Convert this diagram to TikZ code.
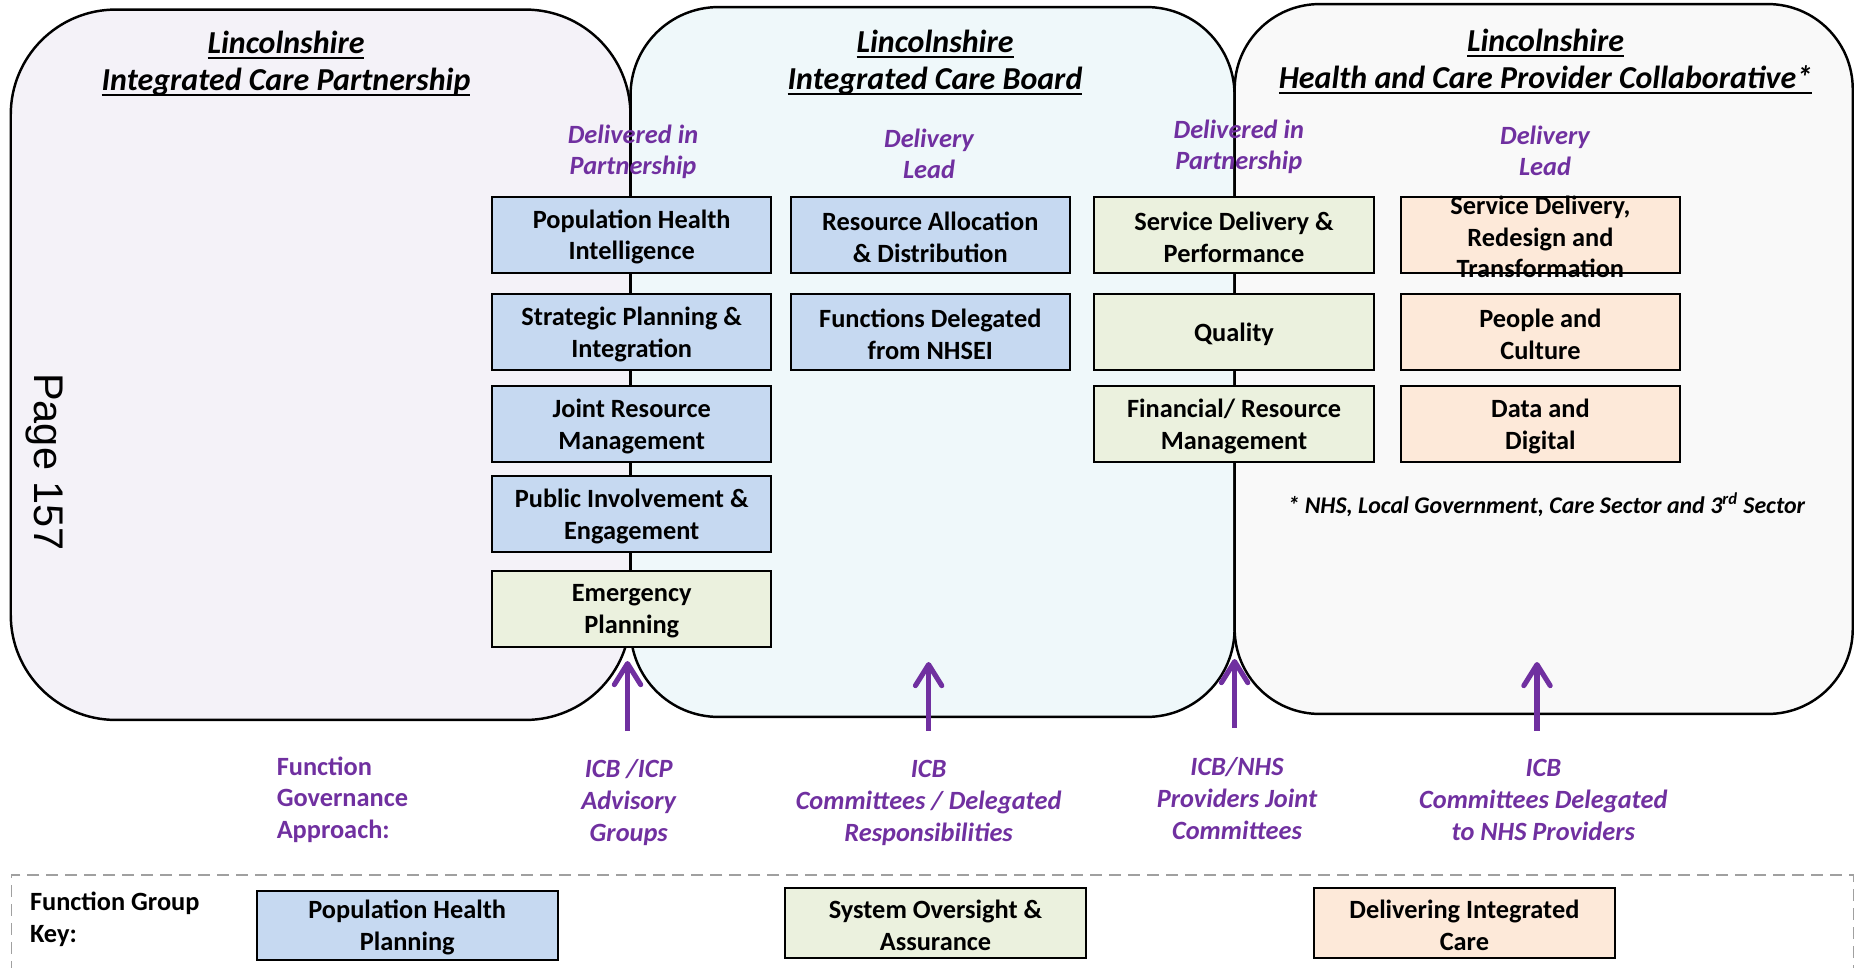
\documentclass[tikz,border=0pt]{standalone}
\usepackage{fontspec}
\setmainfont{Carlito}
\newfontfamily\pagefont{Liberation Sans}
\usetikzlibrary{arrows.meta}
\definecolor{icpfill}{HTML}{F4F2F8}
\definecolor{icbfill}{HTML}{EFF8FA}
\definecolor{pcfill}{HTML}{F9F9F9}
\definecolor{bluefill}{HTML}{C6D9F1}
\definecolor{greenfill}{HTML}{EBF1DE}
\definecolor{orangefill}{HTML}{FDE9D9}
\definecolor{purp}{HTML}{7030A0}
\definecolor{keygray}{HTML}{A0A0A0}
\newcommand\hdrul[1]{\setbox0=\hbox{#1}\leavevmode\rlap{\rule[-3.2pt]{\wd0}{1.6pt}}\box0}
\tikzset{
  bigbox/.style={draw, line width=1.4pt, rectangle, inner sep=0},
  smallbox/.style={draw, line width=1.1pt, rectangle, inner sep=0, minimum width=5.59cm, minimum height=1.52cm},
  keybox/.style={smallbox, minimum width=6.02cm, minimum height=1.39cm},
  btxt/.style={font=\fontsize{15pt}{18.1pt}\selectfont\bfseries, align=center, inner sep=0, yshift=-1.3pt},
  hdr/.style={font=\fontsize{18.2pt}{21pt}\selectfont\bfseries\itshape, align=center, inner sep=0, yshift=-0.8pt},
  plbl/.style={font=\fontsize{15pt}{18.1pt}\selectfont\bfseries\itshape, text=purp, align=center, inner sep=0, yshift=-1pt},
  parrow/.style={draw=purp, line width=2.9pt, -{Straight Barb[round,length=12pt,width=15pt]}},
}
\begin{document}
\begin{tikzpicture}[x=0.02cm,y=-0.02cm]
\useasboundingbox (0,0) rectangle (1855,967);
\clip (0,0) rectangle (1855,967);
% big containers
\node[bigbox, fill=icpfill, rounded corners=2.1cm, minimum width=12.396cm, minimum height=14.21cm] (icp) at (320.6,364.75) {};
\node[bigbox, fill=icbfill, rounded corners=1.76cm, minimum width=12.082cm, minimum height=14.2cm] (icb) at (932.55,362) {};
\node[bigbox, fill=pcfill, rounded corners=1.7cm, minimum width=12.364cm, minimum height=14.2cm] (pc) at (1543.7,359) {};
% headers
\node[hdr] (hicp) at (286,62.5) {\hdrul{Lincolnshire}\\\hdrul{Integrated Care Partnership}};
\node[hdr] (hicb) at (935,61.5) {\hdrul{Lincolnshire}\\\hdrul{Integrated Care Board}};
\node[hdr] (hpc) at (1545.5,60.5) {\hdrul{Lincolnshire}\\\hdrul{Health and Care Provider Collaborative*}};
% column labels
\node[plbl] (l1) at (633,150) {Delivered in\\Partnership};
\node[plbl] (l2) at (929,152) {Delivery\\Lead};
\node[plbl] (l3) at (1238.8,145) {Delivered in\\Partnership};
\node[plbl] (l4) at (1545,149) {Delivery\\Lead};
% column 1
\node[smallbox, fill=bluefill] (b11) at (631.7,234.7) {};
\node[btxt] (t11) at (b11) {Population Health\\Intelligence};
\node[smallbox, fill=bluefill] (b12) at (631.7,332) {};
\node[btxt] (t12) at (b12) {Strategic Planning \&\\Integration};
\node[smallbox, fill=bluefill] (b13) at (631.7,424.3) {};
\node[btxt] (t13) at (b13) {Joint Resource\\Management};
\node[smallbox, fill=bluefill] (b14) at (631.7,514.3) {};
\node[btxt] (t14) at (b14) {Public Involvement \&\\Engagement};
\node[smallbox, fill=greenfill] (b15) at (631.7,608.7) {};
\node[btxt] (t15) at (b15) {Emergency\\Planning};
% column 2
\node[smallbox, fill=bluefill] (b21) at (930.3,234.7) {};
\node[btxt] (t21) at (b21) {Resource Allocation\\\& Distribution};
\node[smallbox, fill=bluefill] (b22) at (930.3,332) {};
\node[btxt] (t22) at (b22) {Functions Delegated\\from NHSEI};
% column 3
\node[smallbox, fill=greenfill] (b31) at (1234,234.7) {};
\node[btxt] (t31) at (b31) {Service Delivery \&\\Performance};
\node[smallbox, fill=greenfill] (b32) at (1234,332) {};
\node[btxt] (t32) at (b32) {Quality};
\node[smallbox, fill=greenfill] (b33) at (1234,424.3) {};
\node[btxt] (t33) at (b33) {Financial/ Resource\\Management};
% column 4
\node[smallbox, fill=orangefill] (b41) at (1540.4,234.7) {};
\node[btxt] (t41) at (b41) {Service Delivery,\\Redesign and\\Transformation};
\node[smallbox, fill=orangefill] (b42) at (1540.4,332) {};
\node[btxt] (t42) at (b42) {People and\\Culture};
\node[smallbox, fill=orangefill] (b43) at (1540.4,424.3) {};
\node[btxt] (t43) at (b43) {Data and\\Digital};
% footnote
\node[font=\fontsize{13.6pt}{16pt}\selectfont\bfseries\itshape, inner sep=0] (fn) at (1546.3,505) {* NHS, Local Government, Care Sector and 3\textsuperscript{rd} Sector};
% page number
\node[font=\fontsize{23.6pt}{28pt}\selectfont\pagefont, rotate=-90, inner sep=0] (pg) at (44.5,462) {Page 157};
% arrows
\coordinate (a1s) at (627.5,731); \coordinate (a1e) at (627.5,661);
\coordinate (a2s) at (928.6,731); \coordinate (a2e) at (928.6,662);
\coordinate (a3s) at (1234.6,728); \coordinate (a3e) at (1234.6,659);
\coordinate (a4s) at (1537,731); \coordinate (a4e) at (1537,662);
\draw[parrow] (a1s) -- (a1e);
\draw[parrow] (a2s) -- (a2e);
\draw[parrow] (a3s) -- (a3e);
\draw[parrow] (a4s) -- (a4e);
% governance labels
\node[plbl, font=\fontsize{15pt}{18.1pt}\selectfont\bfseries, align=left, anchor=west] (fga) at (276.4,798) {Function\\Governance\\Approach:};
\node[plbl] (g1) at (628.7,801) {ICB /ICP\\Advisory\\Groups};
\node[plbl] (g2) at (928.6,801) {ICB\\Committees / Delegated\\Responsibilities};
\node[plbl] (g3) at (1237,797) {ICB/NHS\\Providers Joint\\Committees};
\node[plbl] (g4) at (1543.3,798) {ICB\\Committees Delegated\\to NHS Providers};
% key
\node[draw=keygray, line width=0.85pt, dash pattern=on 6.8pt off 4pt, rectangle, inner sep=0, minimum width=36.846cm, minimum height=2.4cm, anchor=north west] (keyframe) at (10.7,874) {};
\node[btxt, align=left, anchor=west] (keylbl) at (29.7,917.4) {Function Group\\Key:};
\node[keybox, fill=bluefill] (k1) at (407.2,925.5) {};
\node[btxt] (kt1) at (k1) {Population Health\\Planning};
\node[keybox, fill=greenfill] (k2) at (935.5,922.85) {};
\node[btxt] (kt2) at (k2) {System Oversight \&\\Assurance};
\node[keybox, fill=orangefill] (k3) at (1464.4,922.85) {};
\node[btxt] (kt3) at (k3) {Delivering Integrated\\Care};
\end{tikzpicture}
\end{document}
